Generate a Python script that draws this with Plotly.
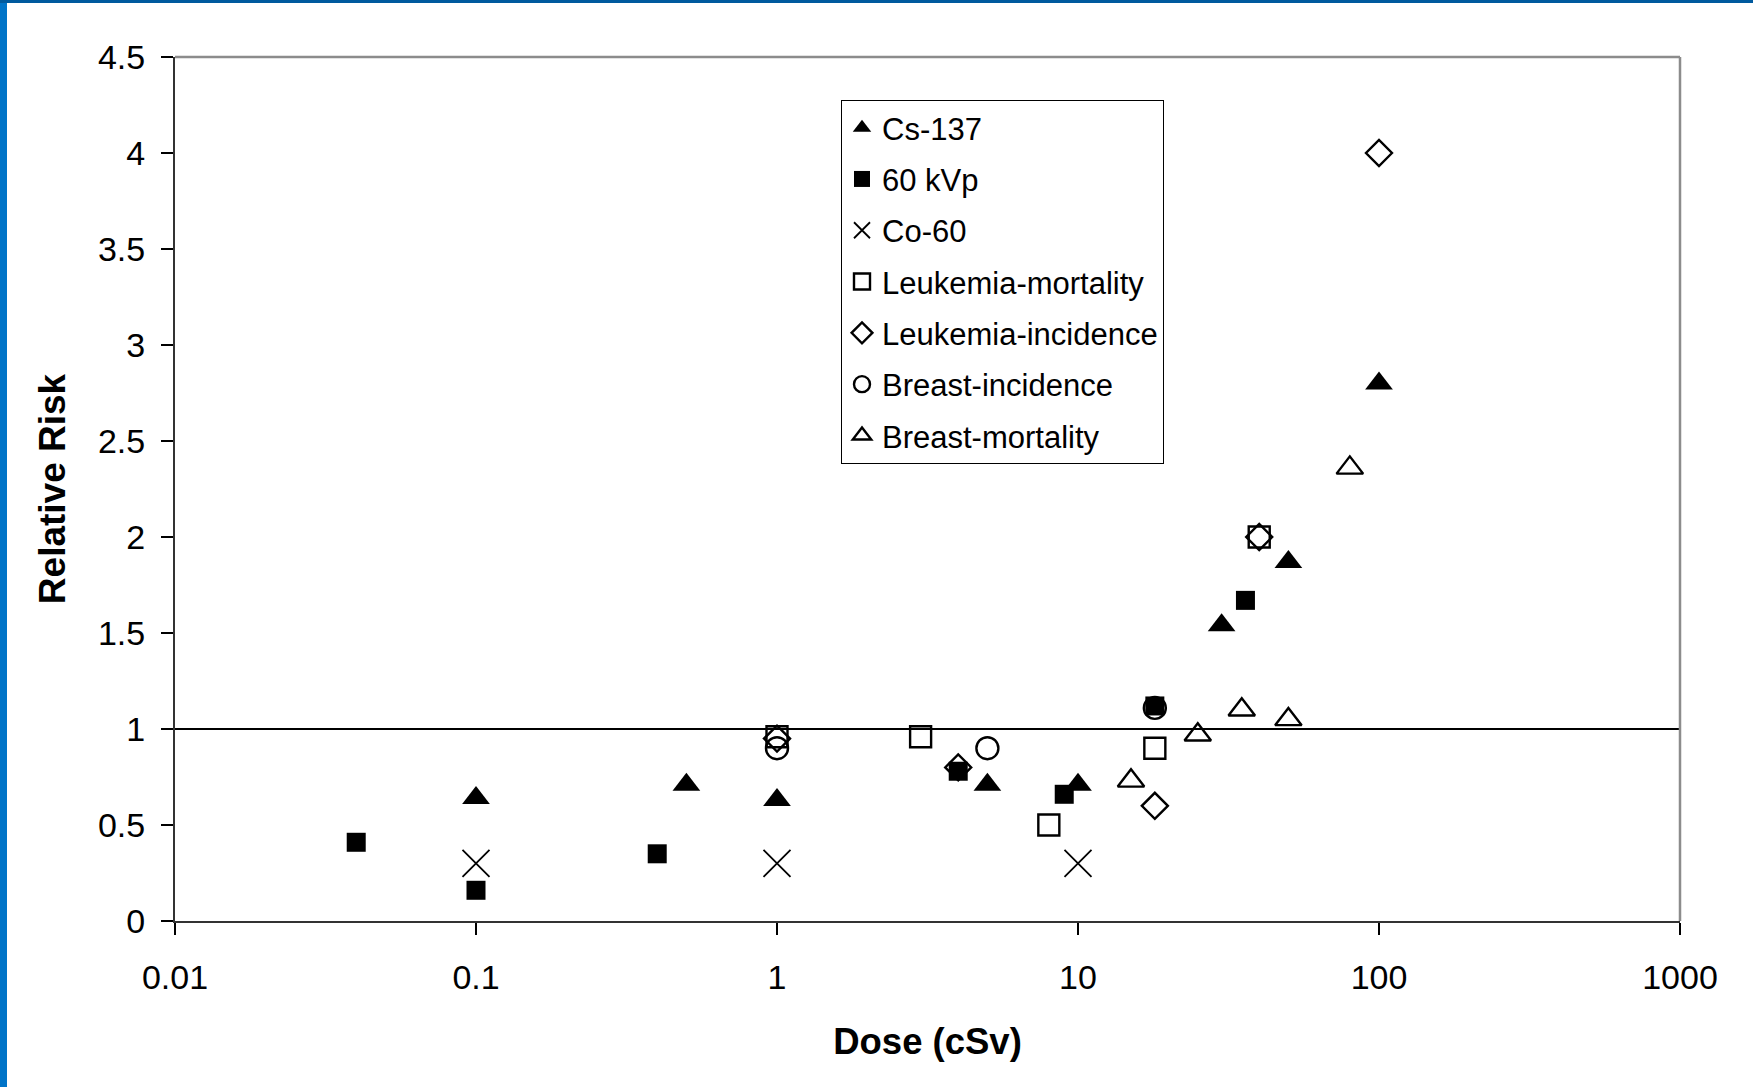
import plotly.graph_objects as go

# Relative risk versus dose for each exposure group
cs137_dose = [0.1, 0.5, 1, 5, 10, 30, 50, 100]
cs137_rr = [0.64, 0.71, 0.63, 0.71, 0.71, 1.54, 1.87, 2.80]

kvp60_dose = [0.04, 0.1, 0.4, 4, 9, 18, 36]
kvp60_rr = [0.41, 0.16, 0.35, 0.78, 0.66, 1.12, 1.67]

co60_dose = [0.1, 1, 10]
co60_rr = [0.30, 0.30, 0.30]

leuk_mort_dose = [1, 3, 8, 18, 40]
leuk_mort_rr = [0.96, 0.96, 0.50, 0.90, 2.00]

leuk_inc_dose = [1, 4, 18, 40, 100]
leuk_inc_rr = [0.95, 0.80, 0.60, 2.00, 4.00]

breast_inc_dose = [1, 5, 18]
breast_inc_rr = [0.90, 0.90, 1.11]

breast_mort_dose = [15, 25, 35, 50, 80]
breast_mort_rr = [0.73, 0.97, 1.10, 1.05, 2.36]

x_tick_vals = [0.01, 0.1, 1, 10, 100, 1000]
x_tick_text = ["0.01", "0.1", "1", "10", "100", "1000"]

FONT = "Liberation Sans, Arial, sans-serif"
OPEN_LINE = dict(width=2.4, color="black")

series = [
    ("Cs-137", cs137_dose, cs137_rr, dict(symbol="triangle-up", size=24, color="black")),
    ("60 kVp", kvp60_dose, kvp60_rr, dict(symbol="square", size=19, color="black")),
    ("Co-60", co60_dose, co60_rr,
     dict(symbol="x-thin-open", size=27, color="black", line=dict(width=1.8, color="black"))),
    ("Leukemia-mortality", leuk_mort_dose, leuk_mort_rr,
     dict(symbol="square-open", size=21, color="black", line=OPEN_LINE)),
    ("Leukemia-incidence", leuk_inc_dose, leuk_inc_rr,
     dict(symbol="diamond-open", size=20, color="black", line=OPEN_LINE)),
    ("Breast-incidence", breast_inc_dose, breast_inc_rr,
     dict(symbol="circle-open", size=22, color="black", line=OPEN_LINE)),
    ("Breast-mortality", breast_mort_dose, breast_mort_rr,
     dict(symbol="triangle-up-open", size=23, color="black", line=OPEN_LINE)),
]

fig = go.Figure()
for i, (name, xs, ys, marker) in enumerate(series):
    fig.add_trace(go.Scatter(
        x=xs, y=ys, mode="markers", name=name, marker=marker,
        legendgroup=f"g{i}",
    ))

# Figure geometry in pixels
W, H = 1753, 1087
L, R, T, B = 175, 73, 57, 166
pw, ph = W - L - R, H - T - B


def px_x(p):
    return (p - L) / pw


def px_y(p):
    return (H - B - p) / ph


shapes = [
    # reference line at RR = 1
    dict(type="line", xref="paper", yref="y", x0=0, x1=1, y0=1, y1=1,
         line=dict(color="black", width=2), layer="below"),
    # grey frame on top and right of the plot area
    dict(type="line", xref="paper", yref="paper", x0=0, x1=1, y0=1, y1=1,
         line=dict(color="#8c8c8c", width=2.5)),
    dict(type="line", xref="paper", yref="paper", x0=1, x1=1, y0=0, y1=1,
         line=dict(color="#8c8c8c", width=2.5)),
    # blue slide edge on the left and top
    dict(type="rect", xref="paper", yref="paper",
         x0=px_x(0), x1=px_x(7), y0=px_y(H), y1=px_y(0),
         fillcolor="#0074C8", line=dict(width=0), layer="above"),
    dict(type="rect", xref="paper", yref="paper",
         x0=px_x(0), x1=px_x(W), y0=px_y(3), y1=px_y(0),
         fillcolor="#005A9E", line=dict(width=0), layer="above"),
]

fig.update_layout(
    width=W, height=H,
    margin=dict(l=L, r=R, t=T, b=B, autoexpand=False),
    paper_bgcolor="white", plot_bgcolor="white",
    font=dict(family=FONT, color="black", size=34),
    showlegend=True,
    legend=dict(
        x=px_x(841), y=px_y(100), xanchor="left", yanchor="top",
        bgcolor="white", bordercolor="black", borderwidth=1,
        font=dict(family=FONT, size=31, color="black"),
        tracegroupgap=8, itemsizing="trace",
    ),
    shapes=shapes,
    xaxis=dict(
        type="log", range=[-2, 3],
        tickvals=x_tick_vals, ticktext=x_tick_text,
        ticks="outside", ticklen=12, tickwidth=1.5, tickcolor="black",
        showline=True, linecolor="#333333", linewidth=2,
        showgrid=False, zeroline=False,
        tickfont=dict(size=34), ticklabelstandoff=13,
        title=dict(text="<b>Dose (cSv)</b>", font=dict(size=36.5), standoff=34),
    ),
    yaxis=dict(
        range=[0, 4.5], dtick=0.5, tick0=0,
        ticks="outside", ticklen=12, tickwidth=1.5, tickcolor="black",
        showline=True, linecolor="#333333", linewidth=2,
        showgrid=False, zeroline=False,
        tickfont=dict(size=34), ticklabelstandoff=9,
        title=dict(text="<b>Relative Risk</b>", font=dict(size=37), standoff=21),
    ),
)

fig.write_html("out.html")
